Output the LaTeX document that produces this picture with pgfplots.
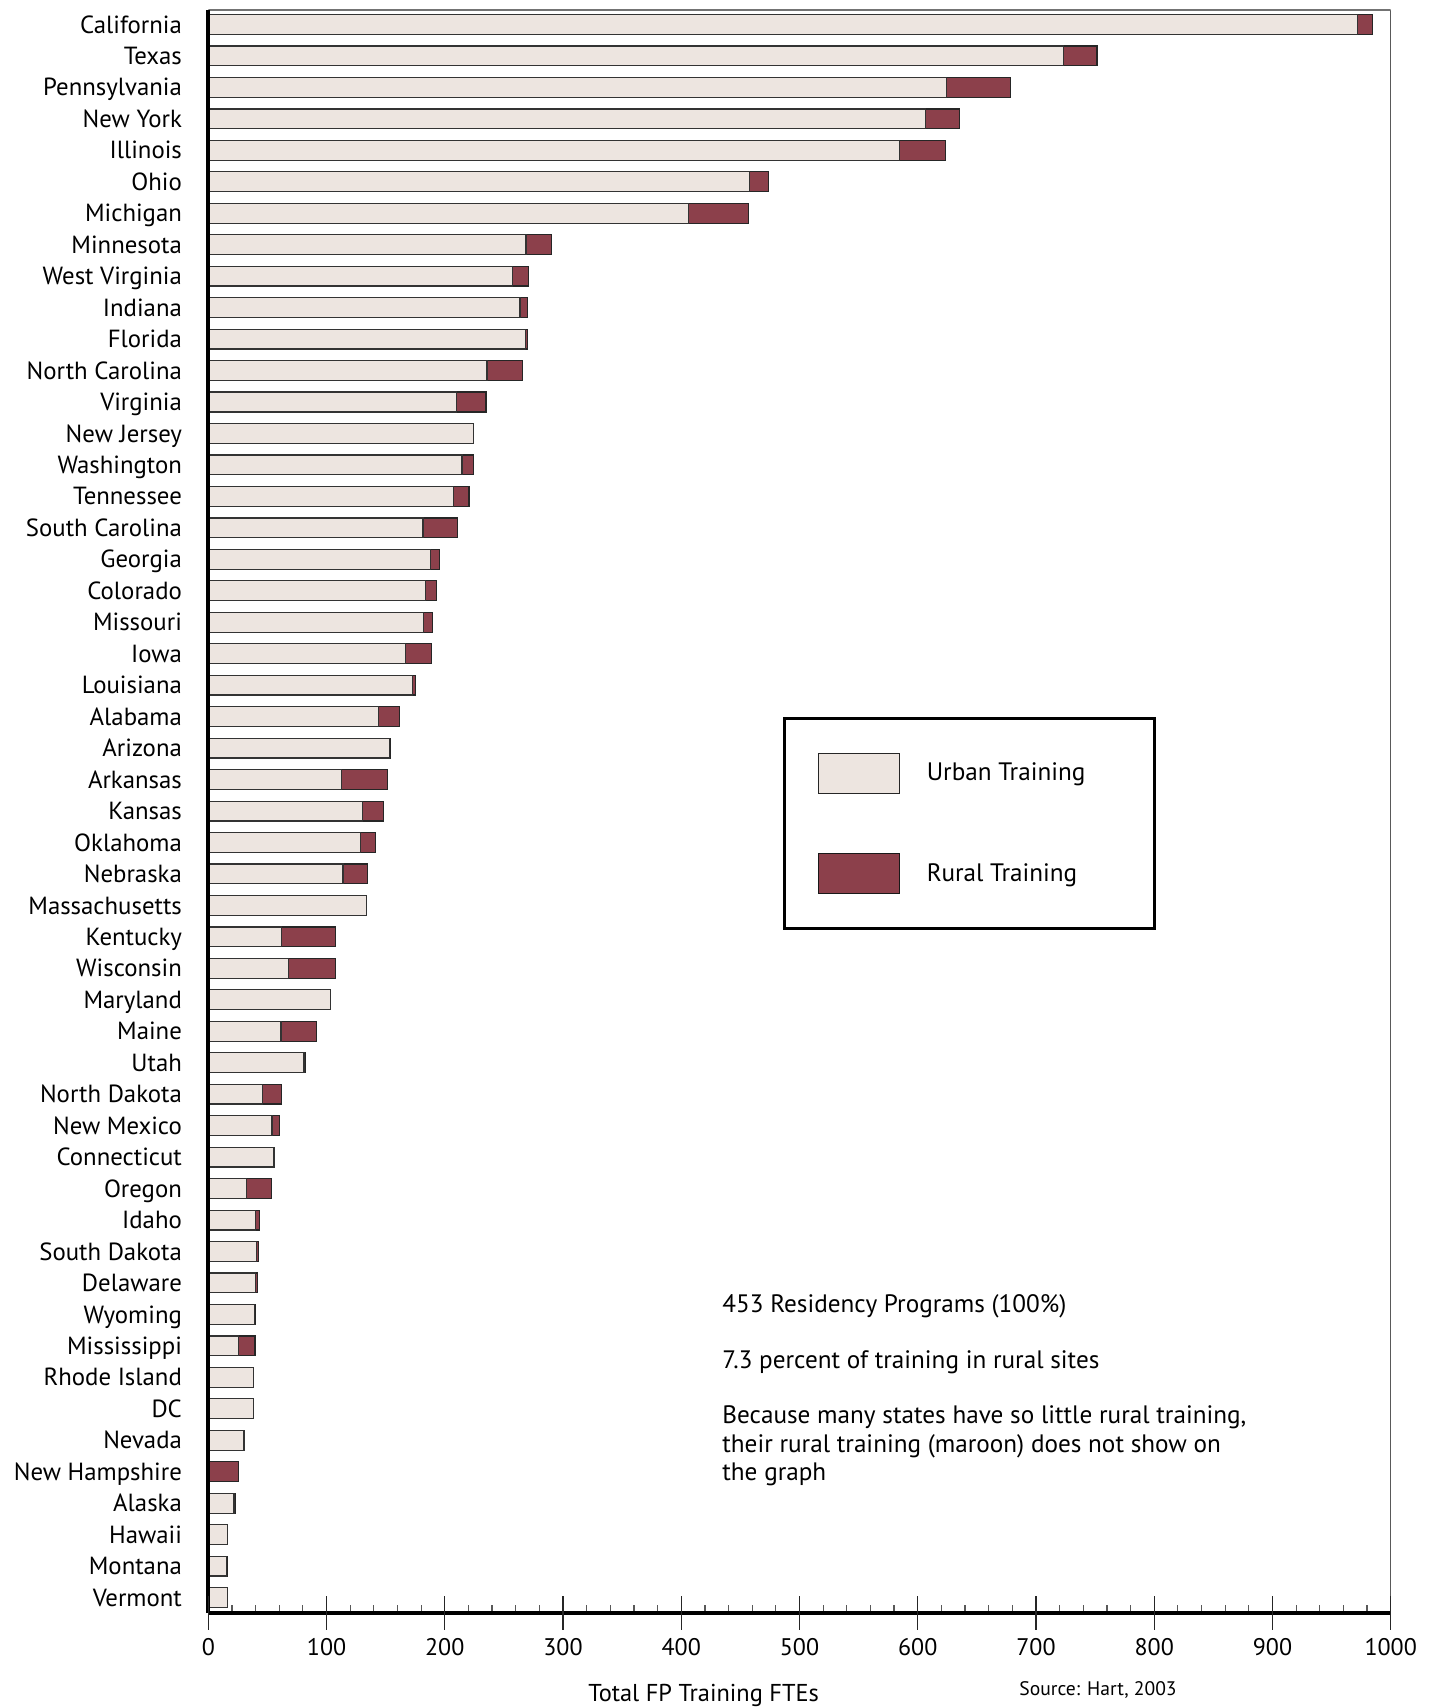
\documentclass[border=0pt]{standalone}
\usepackage{pgfplots}
\usepackage{pgfplotstable}
\pgfplotsset{compat=1.18}
\usepackage{fontspec}
\setmainfont{PT Sans}
\definecolor{urban}{RGB}{237,229,224}
\definecolor{rural}{RGB}{140,64,75}
\newcommand{\fs}[1]{\fontsize{#1}{#1}\selectfont}

\pgfplotstableread{
idx urban rural
50 971.8 12.6
49 723.0 28.6
48 624.0 54.7
47 606.6 28.7
46 584.5 38.8
45 457.7 16.3
44 406.0 51.0
43 268.7 21.3
42 257.0 14.0
41 263.6 6.2
40 268.0 1.8
39 235.7 29.9
38 210.0 24.8
37 224.0 0.6
36 214.5 10.1
35 207.5 12.9
34 181.5 29.1
33 188.0 7.6
32 184.0 9.3
31 181.8 7.9
30 166.5 22.0
29 172.5 3.0
28 144.0 17.5
27 153.0 1.4
26 112.6 39.2
25 130.7 17.7
24 128.4 13.0
23 114.0 20.4
22 133.8 0
21 62.0 45.8
20 68.0 39.8
19 103.3 0
18 61.5 30.2
17 81.0 1.4
16 46.0 16.0
15 53.9 6.5
14 55.6 0
13 32.2 21.4
12 40.0 3.4
11 40.9 1.7
10 39.8 2.0
9 39.2 0.6
8 25.7 13.8
7 38.4 0
6 38.4 0
5 30.2 0.5
4 0 25.4
3 21.7 1.4
2 16.0 0
1 15.5 1.0
0 16.0 0
}\datatable

\begin{document}
\begin{tikzpicture}
\begin{axis}[
  at={(0,0)}, anchor=south west,
  scale only axis,
  width=591.2bp, height=801.5bp,
  xmin=0, xmax=1000,
  ymin=-0.49, ymax=50.46,
  xbar stacked,
  bar width=0.63,
  axis on top,
  axis x line*=bottom,
  axis y line*=left,
  axis line style={line width=2.2bp, -, black},
  xtick={0,100,...,1000},
  minor x tick num=4,
  tick align=inside,
  major tick length=0pt,
  minor tick length=4bp,
  minor x tick style={black!65, line width=0.6bp},
  extra x ticks={0,100,...,1000},
  extra x tick labels={},
  extra x tick style={tick align=center, major tick length=16.5bp, major x tick style={black!85, line width=0.6bp}},
  ytick={0,1,...,50},
  ytick style={draw=none},
  yticklabels={Vermont, Montana, Hawaii, {Alaska\hspace{3bp}}, New Hampshire, Nevada, DC, Rhode Island, Mississippi, Wyoming, Delaware, South Dakota, Idaho, Oregon, Connecticut, New Mexico, North Dakota, Utah, Maine, Maryland, Wisconsin, Kentucky, Massachusetts, Nebraska, Oklahoma, Kansas, Arkansas, Arizona, Alabama, Louisiana, Iowa, Missouri, Colorado, Georgia, South Carolina, Tennessee, Washington, New Jersey, Virginia, North Carolina, Florida, Indiana, West Virginia, Minnesota, Michigan, Ohio, Illinois, New York, Pennsylvania, Texas, California},
  yticklabel style={anchor=east, inner sep=0pt, xshift=-13bp, text height=8.6bp, text depth=0pt, font=\fs{12.4bp}},
  xticklabel style={anchor=center, inner sep=0pt, yshift=-17.25bp, font=\fs{12bp}},
  /pgf/number format/assume math mode=true,
  /pgf/number format/1000 sep={},
  xlabel={Total FP Training FTEs},
  xlabel style={at={(axis description cs:0.3211,-0.0552)}, anchor=base west, inner sep=0pt, font=\fs{12.2bp}},
  legend style={at={(axis description cs:0.4861,0.5587)}, anchor=north west,
    draw=black, line width=1.5bp, inner xsep=16.5bp, inner ysep=17bp,
    /tikz/row sep=29.5bp, /tikz/column sep=13.5bp,
    nodes={inner sep=0pt}, font=\fs{12.6bp}},
  legend cell align=left,
]
\addplot+[fill=urban, draw=black!80, line width=0.6bp,
  legend image code/.code={\draw[fill=urban, draw=black!85, line width=0.6bp] (0bp,-10bp) rectangle (40.5bp,10bp);}]
  table[x=urban, y=idx] {\datatable};
\addlegendentry{\makebox[97.5bp][l]{Urban Training}}
\addplot+[fill=rural, draw=black!85, line width=0.6bp,
  legend image code/.code={\draw[fill=rural, draw=black!90, line width=0.6bp] (0bp,-10bp) rectangle (40.5bp,10bp);}]
  table[x=rural, y=idx] {\datatable};
\addlegendentry{\makebox[97.5bp][l]{Rural Training}}
\draw[black!55, line width=0.6bp] (rel axis cs:0,1) -- (rel axis cs:1,1);
\draw[black, line width=0.8bp] (rel axis cs:1,1) -- (rel axis cs:1,0);
\end{axis}
\node[anchor=base west, inner sep=0pt, font=\fs{12.6bp}] at (256.85bp,150.4bp) {453 Residency Programs (100\%)};
\node[anchor=base west, inner sep=0pt, font=\fs{12.6bp}] at (256.85bp,122.1bp) {7.3 percent of training in rural sites};
\node[anchor=base west, inner sep=0pt, font=\fs{12.6bp}] at (256.85bp,94.75bp) {Because many states have so little rural training,};
\node[anchor=base west, inner sep=0pt, font=\fs{12.6bp}] at (256.85bp,80.4bp) {their rural training (maroon) does not show on};
\node[anchor=base west, inner sep=0pt, font=\fs{12.6bp}] at (256.85bp,66.1bp) {the graph};
\node[anchor=base west, inner sep=0pt, font=\fs{9.8bp}] at (405.35bp,-41.25bp) {Source: Hart, 2003};
\pgfresetboundingbox
\path (-104.15bp,-47.5bp) rectangle (611.35bp,806.5bp);
\end{tikzpicture}
\end{document}
